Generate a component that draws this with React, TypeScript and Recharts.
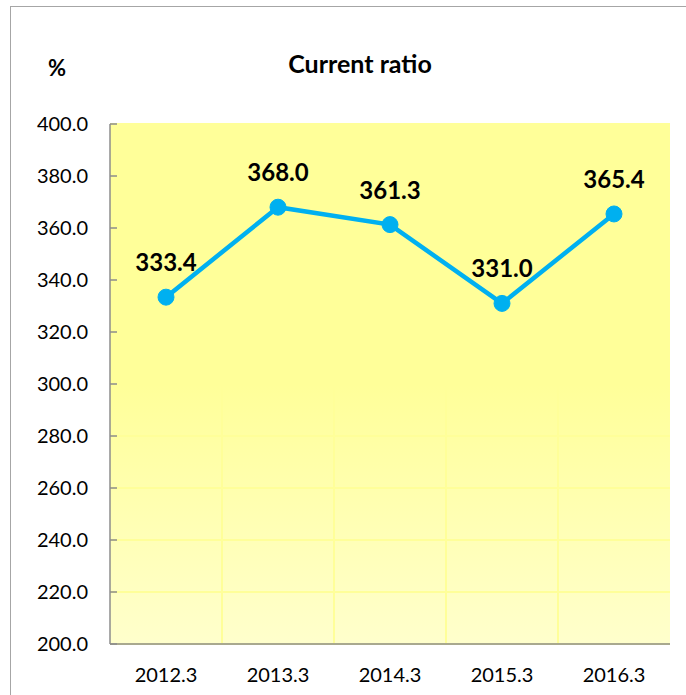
import { LineChart, Line, XAxis, YAxis, CartesianGrid, LabelList } from "recharts";

const periods = ["2012.3", "2013.3", "2014.3", "2015.3", "2016.3"];
const currentRatio = [333.4, 368.0, 361.3, 331.0, 365.4];
const yTicks = [200, 220, 240, 260, 280, 300, 320, 340, 360, 380, 400];

const data = periods.map((period, i) => ({ period, ratio: currentRatio[i] }));

const FONT = "Lato, 'Open Sans', sans-serif";

function YTick({ x, y, payload }: any) {
  return (
    <g>
      <line x1={x + 22} x2={x + 29} y1={y} y2={y} stroke="#8c8c8c" strokeWidth={1.5} />
      <text x={x} y={y} dy="0.35em" textAnchor="end" fontFamily={FONT} fontSize={20} fill="#000">
        {Number(payload.value).toFixed(1)}
      </text>
    </g>
  );
}

export default function App() {
  return (
    <div style={{ position: "absolute", left: 0, top: 0, width: 686, height: 695, background: "#fff", overflow: "hidden" }}>
      <div
        style={{
          position: "absolute",
          left: 10,
          top: 6,
          width: 700,
          height: 700,
          borderLeft: "1.5px solid #a6a6a6",
          borderTop: "1.5px solid #a6a6a6",
        }}
      />
      <div style={{ position: "absolute", left: 0, width: 720, top: 48, textAlign: "center", fontFamily: FONT, fontWeight: 700, fontSize: 25 }}>
        Current ratio
      </div>
      <div style={{ position: "absolute", left: 48, top: 54, fontFamily: FONT, fontWeight: 700, fontSize: 22 }}>%</div>
      <div style={{ position: "absolute", left: 0, top: 0 }}>
        <LineChart width={686} height={695} data={data} margin={{ top: 124, right: 16, bottom: 21, left: 10 }}>
          <defs>
            <linearGradient id="plotBg" x1="0" y1="0" x2="0" y2="1">
              <stop offset="0%" stopColor="#ffff99" />
              <stop offset="50%" stopColor="#ffff99" />
              <stop offset="100%" stopColor="#ffffcc" />
            </linearGradient>
          </defs>
          <CartesianGrid
            fill="url(#plotBg)"
            stroke="#ffff99"
            strokeWidth={2}
            verticalCoordinatesGenerator={({ offset }: any) =>
              periods.slice(1).map((_, i) => offset.left + ((i + 1) * offset.width) / periods.length)
            }
          />
          <XAxis
            dataKey="period"
            padding={{ left: 56, right: 56 }}
            height={30}
            tickLine={false}
            axisLine={{ stroke: "#8c8c8c", strokeWidth: 1.5 }}
            tick={{ fontFamily: FONT, fontSize: 20, fill: "#000" }}
            tickMargin={18}
          />
          <YAxis
            domain={[200, 400]}
            ticks={yTicks}
            width={100}
            tickLine={false}
            tickSize={0}
            tickMargin={22}
            axisLine={{ stroke: "#8c8c8c", strokeWidth: 1.5 }}
            tick={<YTick />}
            interval={0}
          />
          <Line
            dataKey="ratio"
            stroke="#00b0f0"
            strokeWidth={4.5}
            dot={{ r: 8, fill: "#00b0f0", stroke: "#00b0f0", strokeWidth: 1 }}
            isAnimationActive={false}
          >
            <LabelList
              dataKey="ratio"
              position="top"
              offset={26}
              formatter={(v: any) => Number(v).toFixed(1)}
              style={{ fontFamily: FONT, fontWeight: 700, fontSize: 24, fill: "#000" }}
            />
          </Line>
        </LineChart>
      </div>
    </div>
  );
}
